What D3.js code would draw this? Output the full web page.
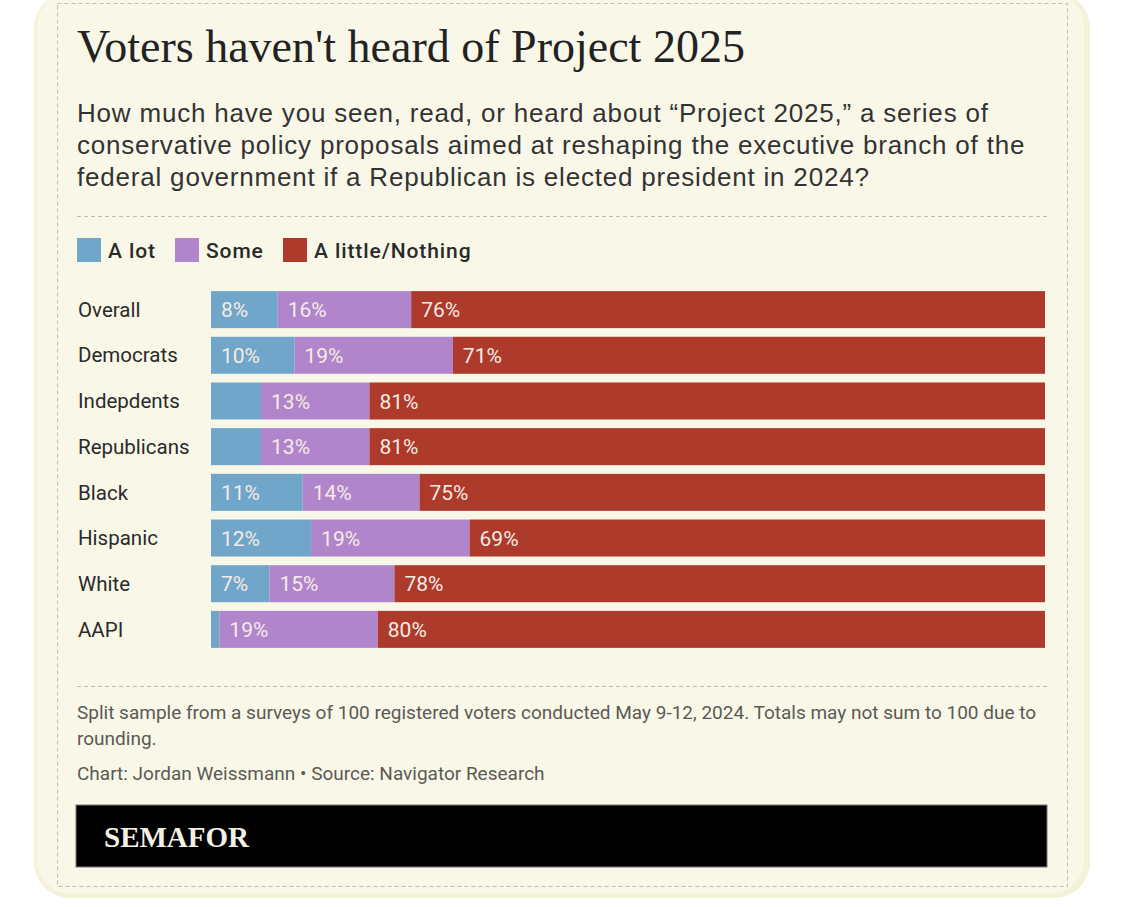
<!DOCTYPE html>
<html>
<head>
<meta charset="utf-8">
<style>
body { margin: 0; background: #fff; }
svg { display: block; }
</style>
</head>
<body>
<svg width="1125" height="907"></svg>
<script src="https://cdn.jsdelivr.net/npm/d3@7"></script>
<script>

var groups = ["Overall", "Democrats", "Indepdents", "Republicans", "Black", "Hispanic", "White", "AAPI"];
var keys = ["A lot", "Some", "A little/Nothing"];
var aLot = [8, 10, 6, 6, 11, 12, 7, 1];
var some = [16, 19, 13, 13, 14, 19, 15, 19];
var little = [76, 71, 81, 81, 75, 69, 78, 80];
// segments under this share get no label
var labelMin = [7, 7, 7];

var colors = ["#6fa6c9", "#b085cc", "#ad3a2a"];

var subtitle = [
  "How much have you seen, read, or heard about \u201cProject 2025,\u201d a series of",
  "conservative policy proposals aimed at reshaping the executive branch of the",
  "federal government if a Republican is elected president in 2024?"
];
var notes = [
  "Split sample from a surveys of 100 registered voters conducted May 9-12, 2024. Totals may not sum to 100 due to",
  "rounding."
];

var svg = d3.select("svg");
var sans = "Roboto, 'Liberation Sans', sans-serif";

// card
svg.append("rect")
    .attr("x", 34).attr("y", -8)
    .attr("width", 1056).attr("height", 906)
    .attr("rx", 36)
    .attr("fill", "#f3f1d8");
svg.append("rect")
    .attr("x", 37).attr("y", -8)
    .attr("width", 1047).attr("height", 902)
    .attr("rx", 34)
    .attr("fill", "#f9f8e8");
svg.append("rect")
    .attr("x", 57.5).attr("y", 3.5)
    .attr("width", 1010).attr("height", 883)
    .attr("fill", "none")
    .attr("stroke", "#bdbdb4")
    .attr("stroke-dasharray", "4,3");

svg.append("text")
    .attr("x", 77).attr("y", 62)
    .attr("font-family", "'Liberation Serif', serif")
    .attr("font-size", 46)
    .attr("fill", "#222")
    .text("Voters haven't heard of Project 2025");

svg.append("g").selectAll("text")
    .data(subtitle)
    .enter().append("text")
      .attr("x", 77)
      .attr("y", function(d, i) { return 122 + i * 32; })
      .attr("font-family", "'Liberation Sans', Arial, sans-serif")
      .attr("font-size", 26)
      .attr("letter-spacing", 0.8)
      .attr("fill", "#333")
      .text(function(d) { return d; });

[216, 686].forEach(function(y) {
  svg.append("line")
      .attr("x1", 77).attr("x2", 1047)
      .attr("y1", y + 0.5).attr("y2", y + 0.5)
      .attr("stroke", "#bdbdb4")
      .attr("stroke-dasharray", "4,3");
});

// legend
var legendX = [77, 175, 283];
var legend = svg.append("g").selectAll("g")
    .data(keys)
    .enter().append("g")
      .attr("transform", function(d, i) { return "translate(" + legendX[i] + ",238)"; });
legend.append("rect")
    .attr("width", 24).attr("height", 24)
    .attr("fill", function(d, i) { return colors[i]; });
legend.append("text")
    .attr("x", 31).attr("y", 20)
    .attr("font-family", sans)
    .attr("font-size", 21)
    .attr("font-weight", 500)
    .attr("letter-spacing", 0.9)
    .attr("fill", "#2a2a2a")
    .text(function(d) { return d; });

// bars
var data = groups.map(function(g, i) {
  return {group: g, "A lot": aLot[i], "Some": some[i], "A little/Nothing": little[i]};
});
var series = d3.stack().keys(keys)(data);

var x = d3.scaleLinear().domain([0, 100]).range([211, 1045]);
var y = d3.scaleBand().domain(groups).range([287, 652]).paddingInner(0.19).paddingOuter(0.09);

svg.append("g").selectAll("text")
    .data(groups)
    .enter().append("text")
      .attr("x", 78)
      .attr("y", function(d) { return y(d) + y.bandwidth() / 2; })
      .attr("dy", "0.35em")
      .attr("font-family", sans)
      .attr("font-size", 20.5)
      .attr("fill", "#2a2a2a")
      .text(function(d) { return d; });

var layer = svg.append("g").selectAll("g")
    .data(series)
    .enter().append("g")
      .attr("fill", function(d, i) { return colors[i]; });

layer.selectAll("rect")
    .data(function(d) { return d; })
    .enter().append("rect")
      .attr("x", function(d) { return x(d[0]); })
      .attr("y", function(d) { return y(d.data.group); })
      .attr("width", function(d) { return x(d[1]) - x(d[0]); })
      .attr("height", y.bandwidth());

layer.each(function(s, k) {
  d3.select(this).selectAll("text")
      .data(s.filter(function(d) { return d[1] - d[0] >= labelMin[k]; }))
      .enter().append("text")
        .attr("x", function(d) { return x(d[0]) + 10; })
        .attr("y", function(d) { return y(d.data.group) + y.bandwidth() / 2; })
        .attr("dy", "0.36em")
        .attr("font-family", sans)
        .attr("font-size", 21)
        .attr("fill", "#f6ebe4")
        .text(function(d) { return (d[1] - d[0]) + "%"; });
});

// footer
svg.append("g").selectAll("text")
    .data(notes)
    .enter().append("text")
      .attr("x", 77)
      .attr("y", function(d, i) { return 719 + i * 26; })
      .attr("font-family", sans)
      .attr("font-size", 19)
      .attr("fill", "#5a5a55")
      .text(function(d) { return d; });
svg.append("text")
    .attr("x", 77).attr("y", 780)
    .attr("font-family", sans)
    .attr("font-size", 19)
    .attr("fill", "#5a5a55")
    .text("Chart: Jordan Weissmann \u2022 Source: Navigator Research");

svg.append("rect")
    .attr("x", 76).attr("y", 805)
    .attr("width", 971).attr("height", 62)
    .attr("fill", "#000")
    .attr("stroke", "#777")
    .attr("stroke-width", 1);
svg.append("text")
    .attr("x", 104).attr("y", 847)
    .attr("font-family", "'Liberation Serif', serif")
    .attr("font-size", 29)
    .attr("font-weight", "bold")
    .attr("fill", "#f4f1e4")
    .text("SEMAFOR");

</script>
</body>
</html>
